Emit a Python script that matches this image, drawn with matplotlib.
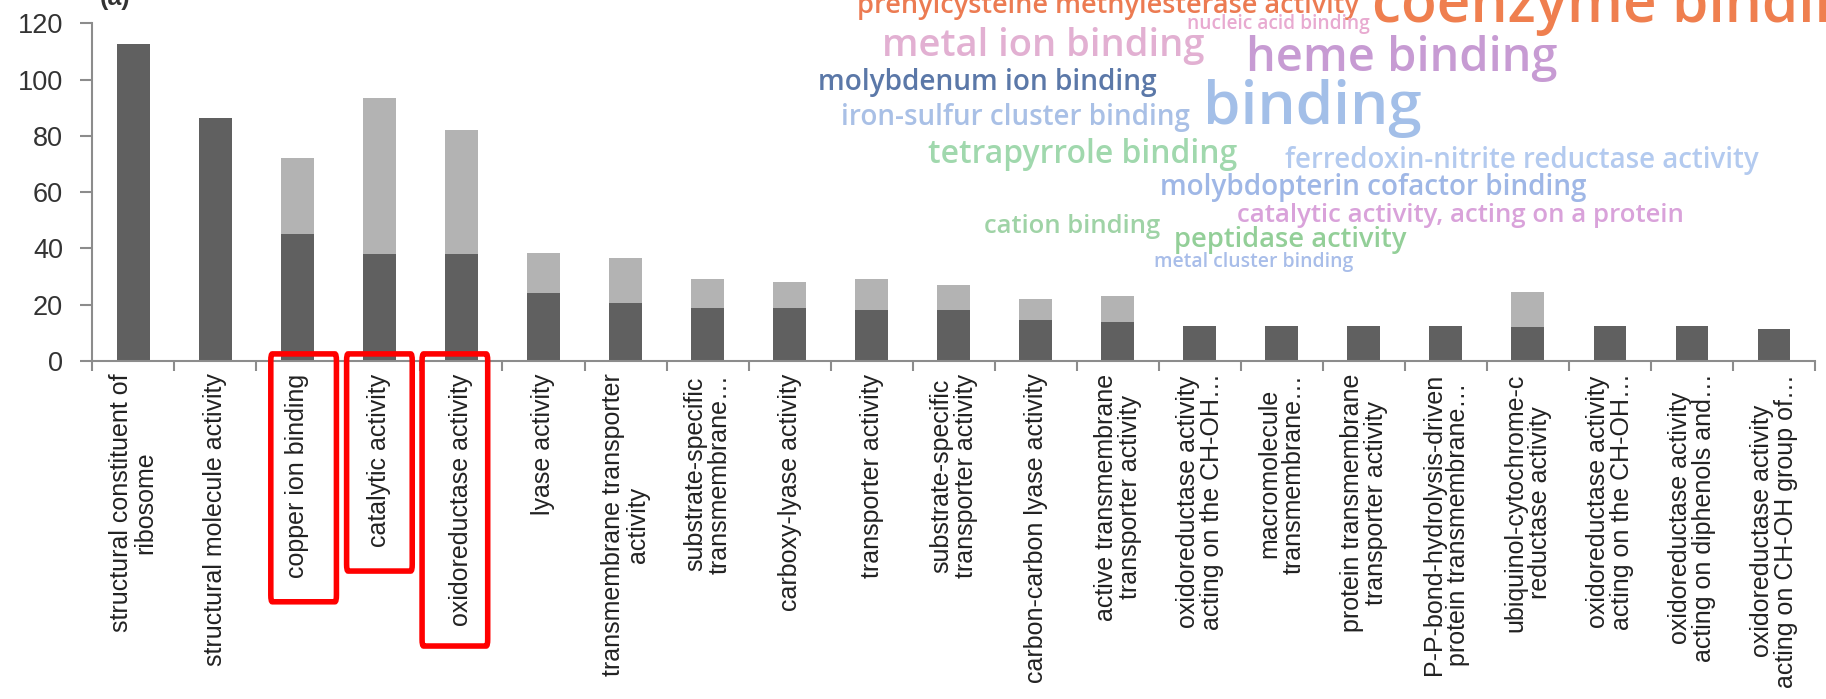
import matplotlib
matplotlib.use("Agg")
import matplotlib.pyplot as plt
import matplotlib.transforms as mtransforms
from matplotlib.patches import FancyBboxPatch
import numpy as np

# GO molecular function terms (x axis)
categories = [
    "structural constituent of\nribosome",
    "structural molecule activity",
    "copper ion binding",
    "catalytic activity",
    "oxidoreductase activity",
    "lyase activity",
    "transmembrane transporter\nactivity",
    "substrate-specific\ntransmembrane…",
    "carboxy-lyase activity",
    "transporter activity",
    "substrate-specific\ntransporter activity",
    "carbon-carbon lyase activity",
    "active transmembrane\ntransporter activity",
    "oxidoreductase activity\nacting on the CH-OH…",
    "macromolecule\ntransmembrane…",
    "protein transmembrane\ntransporter activity",
    "P-P-bond-hydrolysis-driven\nprotein transmembrane…",
    "ubiquinol-cytochrome-c\nreductase activity",
    "oxidoreductase activity\nacting on the CH-OH…",
    "oxidoreductase activity\nacting on diphenols and…",
    "oxidoreductase activity\nacting on CH-OH group of…",
]
# stacked counts: dark lower part + light upper part
lower = [112.5, 86.5, 45, 38, 38, 24, 20.5, 19, 19, 18, 18, 14.5, 14,
         12.5, 12.5, 12.5, 12.5, 12, 12.5, 12.5, 11.5]
upper = [0, 0, 27, 55.5, 44, 14.5, 16, 10, 9, 11, 9, 7.5, 9,
         0, 0, 0, 0, 12.5, 0, 0, 0]
yticks = [0, 20, 40, 60, 80, 100, 120]

# word cloud terms and colours
cloud_words = [
    "prenylcysteine methylesterase activity", "coenzyme binding",
    "nucleic acid binding", "metal ion binding", "heme binding",
    "molybdenum ion binding", "binding", "iron-sulfur cluster binding",
    "tetrapyrrole binding", "ferredoxin-nitrite reductase activity",
    "molybdopterin cofactor binding", "catalytic activity, acting on a protein",
    "cation binding", "peptidase activity", "metal cluster binding",
]
cloud_colors = [
    "#ec7b52", "#ef7f4f", "#e8aad0", "#e2b0d2", "#c79bd3",
    "#5b78a8", "#a3bfe8", "#a9c0e6", "#a0d8ad", "#b3caef",
    "#9fb7e6", "#d9a2da", "#9fd3a6", "#93cf98", "#a8bde9",
]

W, H = 1826, 699
fig = plt.figure(figsize=(W / 100, H / 100), dpi=100)
ax = fig.add_axes([92.3 / W, 1 - 361 / H, (1815 - 92.3) / W, (361 - 23.3) / H])

x = np.arange(len(categories))
ax.bar(x, lower, width=0.4, color="#606060")
ax.bar(x, upper, width=0.4, bottom=lower, color="#b3b3b3")

ax.set_xlim(-0.5, len(categories) - 0.5)
ax.set_ylim(0, 120)
ax.set_yticks(yticks)
for s in ["top", "right"]:
    ax.spines[s].set_visible(False)
for s in ["left", "bottom"]:
    ax.spines[s].set_color("#8c8c8c")
    ax.spines[s].set_linewidth(1.5)

ax.tick_params(axis="y", length=9, width=1.5, color="#8c8c8c", pad=12,
               labelsize=19.5, labelcolor="#333333")
ax.set_xticks(x)
ax.set_xticklabels(categories, rotation=90, ha="center", va="top",
                   multialignment="center", fontsize=18, color="#222222",
                   linespacing=1.02)
ax.tick_params(axis="x", which="major", length=0, pad=9)
ax.set_xticks(np.arange(len(categories) + 1) - 0.5, minor=True)
ax.tick_params(axis="x", which="minor", length=7, width=1.5, color="#8c8c8c")
for lab in ax.get_xticklabels() + ax.get_yticklabels():
    lab.set_fontfamily(["Liberation Sans", "DejaVu Sans"])

# red highlight boxes round the key terms
trans = mtransforms.blended_transform_factory(ax.transData, ax.transAxes)
box_specs = [(2.076, -0.713), (3.0, -0.622), (3.92, -0.844)]
for (cx, ybot) in box_specs:
    rect = FancyBboxPatch((cx - 0.4, ybot), 0.8, 0.021 - ybot,
                          boxstyle="round,pad=0,rounding_size=0.02",
                          transform=trans, fill=False, edgecolor="#ff0000",
                          linewidth=4, clip_on=False, zorder=5)
    ax.add_patch(rect)

# panel letter, mostly cut off by the top edge
fig.text(100 / W, 1 - 5 / H, "(a)", fontsize=18, fontweight="bold",
         color="#333333", va="baseline", family=["Liberation Sans"])

# word cloud, each term sized to the width it spans in the picture
cloud_layout = [
    (857, 1359, 13), (1372, 1885, 22), (1187, 1369, 29.5), (882, 1204, 56),
    (1246, 1558, 71), (818, 1156, 90), (1203, 1422, 124), (841, 1190, 125),
    (928, 1236, 163), (1285, 1758, 168), (1160, 1585, 195), (1237, 1684, 221.5),
    (984, 1160, 233), (1174, 1407, 246.5), (1154, 1352, 266.5),
]
fig.canvas.draw()
renderer = fig.canvas.get_renderer()
for word, col, (x0, x1, base) in zip(cloud_words, cloud_colors, cloud_layout):
    t = fig.text(x0 / W, 1 - base / H, word, fontsize=20, color=col,
                 fontweight="semibold", va="baseline", ha="left",
                 family=["Open Sans", "DejaVu Sans"])
    w = t.get_window_extent(renderer).width
    t.set_fontsize(20 * (x1 - x0) / w)

fig.savefig("out.png", dpi=100)
